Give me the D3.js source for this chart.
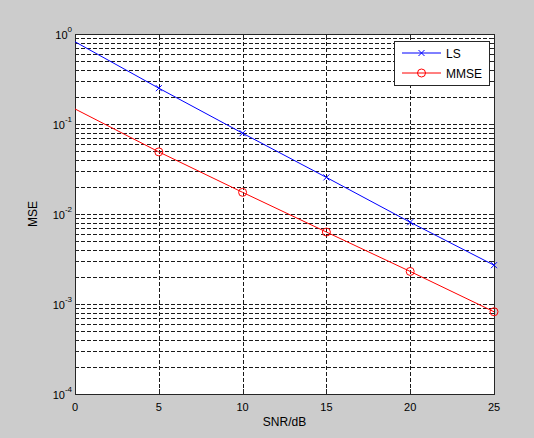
<!DOCTYPE html>
<html>
<head>
<meta charset="utf-8">
<script src="https://cdn.jsdelivr.net/npm/d3@7"></script>
<style>
  body { margin: 0; background: #cccccc; }
  svg { display: block; font-family: "Liberation Sans", Arial, sans-serif; }
</style>
</head>
<body>
<div id="chart"></div>
<script>
// SNR values (dB) and MSE
var snr = [0, 5, 10, 15, 20, 25];
var lsMse = [0.82, 0.25, 0.079, 0.0255, 0.0081, 0.0027];
var mmseMse = [0.147, 0.049, 0.0174, 0.0063, 0.0023, 0.00082];
var xTicks = [0, 5, 10, 15, 20, 25];
var yDecades = [-4, -3, -2, -1, 0];
var seriesNames = ["LS", "MMSE"];

var width = 534,
    height = 438;
var margin = {left: 75, top: 34, right: 40, bottom: 44};

var svg = d3.select("#chart").append("svg")
    .attr("width", width)
    .attr("height", height);

svg.append("rect")
    .attr("width", width).attr("height", height)
    .attr("fill", "#cccccc");

var x = d3.scaleLinear().domain([0, 25]).range([margin.left, width - margin.right]);
var y = d3.scaleLog().domain([1e-4, 1]).range([height - margin.bottom, margin.top]);

var x0 = x.range()[0], x1 = x.range()[1];
var y0 = y.range()[0], y1 = y.range()[1];

svg.append("rect")
    .attr("x", x0).attr("y", y1)
    .attr("width", x1 - x0).attr("height", y0 - y1)
    .attr("fill", "#fff");

// minor + major log ticks
var yAll = [];
for (var e = -4; e < 0; e++) {
    for (var m = 1; m < 10; m++) yAll.push(m * Math.pow(10, e));
}
yAll.push(1);

var grid = svg.append("g")
    .attr("stroke", "#1a1a1a")
    .attr("stroke-width", 1)
    .attr("stroke-dasharray", "4,2")
    .attr("shape-rendering", "crispEdges");

grid.selectAll(".hg")
    .data(yAll.filter(function(v) { return v > 1e-4 && v < 1; }))
    .enter().append("line")
    .attr("x1", x0).attr("x2", x1)
    .attr("y1", function(d) { return Math.round(y(d)) + 0.5; })
    .attr("y2", function(d) { return Math.round(y(d)) + 0.5; });

grid.selectAll(".vg")
    .data(xTicks.slice(1, -1))
    .enter().append("line")
    .attr("y1", y0).attr("y2", y1)
    .attr("x1", function(d) { return Math.round(x(d)) + 0.5; })
    .attr("x2", function(d) { return Math.round(x(d)) + 0.5; });

// tick marks on all four sides
var ticks = svg.append("g")
    .attr("stroke", "#262626")
    .attr("shape-rendering", "crispEdges");

xTicks.forEach(function(t) {
    var px = Math.round(x(t)) + 0.5;
    ticks.append("line").attr("x1", px).attr("x2", px).attr("y1", y0).attr("y2", y0 - 5);
    ticks.append("line").attr("x1", px).attr("x2", px).attr("y1", y1).attr("y2", y1 + 5);
});

yAll.forEach(function(v) {
    var py = Math.round(y(v)) + 0.5;
    var major = Math.abs(Math.log10(v) - Math.round(Math.log10(v))) < 1e-9;
    var len = major ? 5 : 3;
    ticks.append("line").attr("x1", x0).attr("x2", x0 + len).attr("y1", py).attr("y2", py);
    ticks.append("line").attr("x1", x1).attr("x2", x1 - len).attr("y1", py).attr("y2", py);
});

svg.append("rect")
    .attr("x", x0 + 0.5).attr("y", y1 + 0.5)
    .attr("width", x1 - x0).attr("height", y0 - y1)
    .attr("fill", "none")
    .attr("stroke", "#262626")
    .attr("shape-rendering", "crispEdges");

// tick labels
svg.append("g").selectAll("text")
    .data(xTicks)
    .enter().append("text")
    .attr("x", function(d) { return x(d); })
    .attr("y", y0 + 17)
    .attr("text-anchor", "middle")
    .attr("font-size", 11)
    .attr("fill", "#000")
    .text(function(d) { return d; });

var yl = svg.append("g").selectAll("text")
    .data(yDecades)
    .enter().append("text")
    .attr("x", x0 - 3)
    .attr("y", function(d) { return y(Math.pow(10, d)) + 5; })
    .attr("text-anchor", "end")
    .attr("font-size", 11)
    .attr("fill", "#000");
yl.append("tspan").text("10");
yl.append("tspan")
    .attr("dy", -7)
    .attr("font-size", 8)
    .text(function(d) { return d; });

// axis labels
svg.append("text")
    .attr("x", (x0 + x1) / 2)
    .attr("y", y0 + 32)
    .attr("text-anchor", "middle")
    .attr("font-size", 12)
    .text("SNR/dB");

svg.append("text")
    .attr("transform", "translate(37," + ((y0 + y1) / 2) + ") rotate(-90)")
    .attr("text-anchor", "middle")
    .attr("font-size", 12)
    .text("MSE");

// series
var line = d3.line()
    .x(function(d) { return x(d[0]); })
    .y(function(d) { return y(d[1]); });

var lsData = d3.zip(snr, lsMse);
var mmseData = d3.zip(snr, mmseMse);

var plot = svg.append("g");

plot.append("path")
    .datum(lsData)
    .attr("d", line)
    .attr("fill", "none")
    .attr("stroke", "#0000ff");

plot.append("path")
    .datum(mmseData)
    .attr("d", line)
    .attr("fill", "none")
    .attr("stroke", "#ff0000");

function crossMarker(g, cx, cy, color) {
    g.append("path")
        .attr("d", "M" + (cx - 3) + "," + (cy - 3) + "L" + (cx + 3) + "," + (cy + 3) +
                   "M" + (cx - 3) + "," + (cy + 3) + "L" + (cx + 3) + "," + (cy - 3))
        .attr("stroke", color)
        .attr("fill", "none");
}

function circleMarker(g, cx, cy, color) {
    g.append("circle")
        .attr("cx", cx).attr("cy", cy).attr("r", 4)
        .attr("stroke", color)
        .attr("fill", "none");
}

// markers at every point except SNR=0 (hidden on the axis in the original)
lsData.slice(1).forEach(function(d) { crossMarker(plot, x(d[0]), y(d[1]), "#0000ff"); });
mmseData.slice(1).forEach(function(d) { circleMarker(plot, x(d[0]), y(d[1]), "#ff0000"); });

// legend
var lg = svg.append("g").attr("transform", "translate(394,41)");
lg.append("rect")
    .attr("x", 0.5).attr("y", 0.5)
    .attr("width", 95).attr("height", 44)
    .attr("fill", "#fff")
    .attr("stroke", "#262626")
    .attr("shape-rendering", "crispEdges");

var colors = ["#0000ff", "#ff0000"];
seriesNames.forEach(function(name, i) {
    var ly = 12 + i * 20;
    lg.append("line")
        .attr("x1", 8).attr("x2", 47)
        .attr("y1", ly).attr("y2", ly)
        .attr("stroke", colors[i]);
    if (i === 0) crossMarker(lg, 27.5, ly, colors[i]);
    else circleMarker(lg, 27.5, ly, colors[i]);
    lg.append("text")
        .attr("x", 52)
        .attr("y", ly + 5)
        .attr("font-size", 12)
        .text(name);
});
</script>
</body>
</html>
